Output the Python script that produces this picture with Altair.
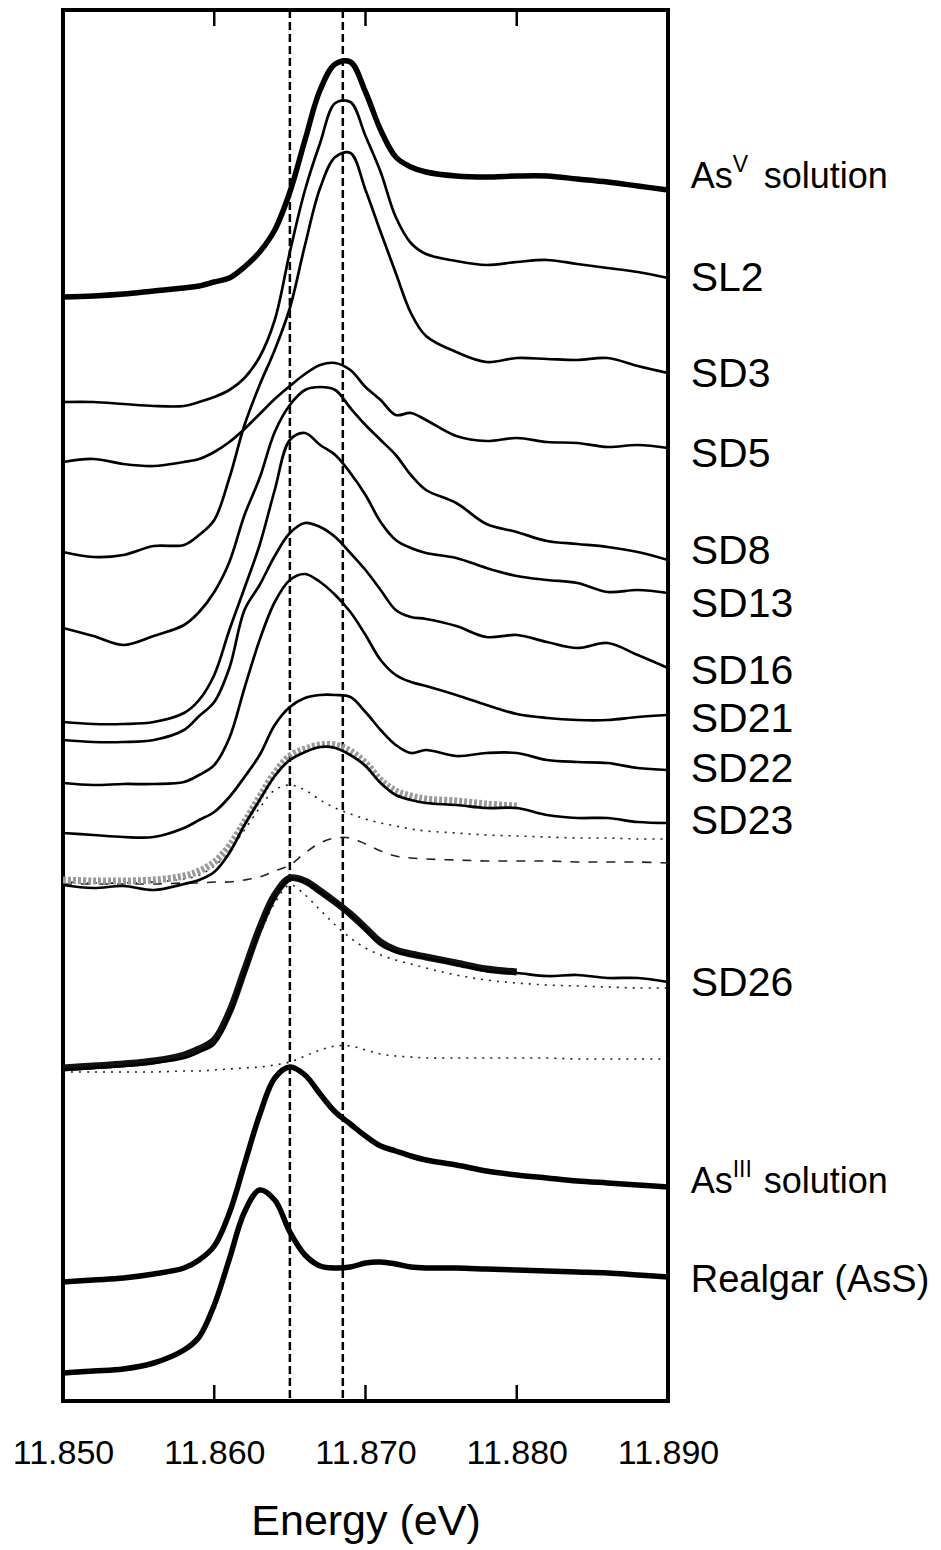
import altair as alt
import pandas as pd

# Energy grid (shared by all spectra)
energy = [11.850, 11.852, 11.854, 11.856, 11.858, 11.859, 11.860, 11.861, 11.862, 11.863,
          11.864, 11.865, 11.866, 11.867, 11.868, 11.869, 11.870, 11.871, 11.872, 11.873,
          11.874, 11.876, 11.878, 11.880, 11.882, 11.884, 11.886, 11.888, 11.890]

# Normalized absorbance with vertical offsets (a.u.)
asv = [11.04, 11.05, 11.07, 11.10, 11.13, 11.15, 11.19, 11.23, 11.34, 11.49, 11.71, 12.09, 12.61, 13.11, 13.37,
       13.39, 13.09, 12.71, 12.44, 12.34, 12.29, 12.25, 12.24, 12.25, 12.25, 12.22, 12.19, 12.15, 12.11]
sl2 = [9.99, 9.99, 9.97, 9.95, 9.95, 9.99, 10.04, 10.11, 10.23, 10.44, 10.81, 11.49, 12.11, 12.58, 12.98,
       12.99, 12.65, 12.29, 11.84, 11.58, 11.47, 11.40, 11.36, 11.39, 11.41, 11.37, 11.33, 11.29, 11.23]
sd3 = [8.49, 8.44, 8.46, 8.55, 8.56, 8.66, 8.81, 9.23, 9.76, 10.16, 10.51, 10.93, 11.56, 12.13, 12.44,
       12.48, 12.11, 11.69, 11.28, 10.88, 10.65, 10.49, 10.39, 10.43, 10.42, 10.41, 10.43, 10.35, 10.28]
sd5 = [9.39, 9.42, 9.37, 9.35, 9.39, 9.42, 9.49, 9.59, 9.72, 9.87, 10.02, 10.15, 10.27, 10.36, 10.38,
       10.31, 10.14, 10.01, 9.86, 9.88, 9.81, 9.65, 9.60, 9.63, 9.59, 9.58, 9.54, 9.56, 9.53]
sd8 = [7.73, 7.65, 7.56, 7.65, 7.76, 7.89, 8.09, 8.39, 8.86, 9.23, 9.69, 9.96, 10.11, 10.14, 10.11,
       9.93, 9.76, 9.61, 9.46, 9.26, 9.11, 8.98, 8.77, 8.69, 8.60, 8.57, 8.54, 8.49, 8.41]
sd13 = [6.79, 6.77, 6.77, 6.79, 6.88, 7.01, 7.26, 7.71, 8.13, 8.56, 9.11, 9.61, 9.68, 9.56, 9.46,
        9.28, 9.06, 8.79, 8.61, 8.53, 8.48, 8.43, 8.33, 8.25, 8.21, 8.18, 8.09, 8.11, 8.08]
sd16 = [6.61, 6.59, 6.59, 6.61, 6.71, 6.85, 6.99, 7.33, 7.91, 8.16, 8.45, 8.68, 8.78, 8.74, 8.64,
        8.48, 8.31, 8.11, 7.91, 7.84, 7.82, 7.75, 7.64, 7.66, 7.59, 7.53, 7.58, 7.46, 7.33]
sd21 = [6.18, 6.16, 6.17, 6.17, 6.19, 6.26, 6.36, 6.63, 7.13, 7.61, 7.99, 8.21, 8.27, 8.19, 8.06,
        7.89, 7.66, 7.41, 7.26, 7.19, 7.15, 7.06, 6.96, 6.87, 6.83, 6.81, 6.81, 6.84, 6.86]
sd22 = [5.68, 5.66, 5.64, 5.64, 5.73, 5.81, 5.89, 6.04, 6.24, 6.46, 6.76, 6.94, 7.03, 7.06, 7.06,
        7.04, 6.89, 6.71, 6.56, 6.48, 6.51, 6.45, 6.48, 6.48, 6.41, 6.39, 6.38, 6.33, 6.31]
sd23 = [5.16, 5.13, 5.15, 5.11, 5.17, 5.21, 5.29, 5.48, 5.76, 6.01, 6.25, 6.41, 6.49, 6.54, 6.53,
        6.46, 6.35, 6.18, 6.06, 6.01, 5.98, 5.96, 5.93, 5.93, 5.86, 5.83, 5.83, 5.79, 5.78]
sd23_fit = [5.21, 5.20, 5.20, 5.21, 5.25, 5.30, 5.39, 5.55, 5.79, 6.04, 6.28, 6.45, 6.52, 6.56, 6.56,
            6.50, 6.38, 6.21, 6.10, 6.05, 6.02, 6.00, 5.97, 5.95]
sd23_as3 = [5.19, 5.18, 5.18, 5.19, 5.22, 5.26, 5.35, 5.50, 5.71, 5.93, 6.11, 6.16, 6.11, 6.01, 5.93,
            5.87, 5.82, 5.78, 5.75, 5.72, 5.70, 5.68, 5.66, 5.65, 5.64, 5.63, 5.63, 5.62, 5.62]
sd23_as5 = [5.17, 5.17, 5.17, 5.17, 5.18, 5.18, 5.19, 5.19, 5.21, 5.24, 5.30, 5.36, 5.48, 5.58, 5.63,
            5.63, 5.57, 5.50, 5.45, 5.43, 5.42, 5.41, 5.40, 5.40, 5.40, 5.39, 5.39, 5.39, 5.38]
sd26 = [3.31, 3.33, 3.35, 3.38, 3.43, 3.49, 3.57, 3.86, 4.29, 4.71, 5.04, 5.22, 5.19, 5.09, 4.99,
        4.86, 4.71, 4.56, 4.49, 4.46, 4.43, 4.37, 4.30, 4.28, 4.25, 4.26, 4.23, 4.23, 4.19]
sd26_fit = [3.33, 3.35, 3.37, 3.40, 3.46, 3.52, 3.61, 3.89, 4.31, 4.73, 5.06, 5.23, 5.20, 5.10, 4.99,
            4.87, 4.73, 4.59, 4.51, 4.47, 4.44, 4.38, 4.32, 4.29]
sd26_as3 = [3.31, 3.33, 3.35, 3.38, 3.43, 3.49, 3.58, 3.85, 4.26, 4.66, 4.98, 5.16, 5.06, 4.91, 4.76,
            4.63, 4.53, 4.46, 4.41, 4.37, 4.33, 4.26, 4.21, 4.18, 4.16, 4.15, 4.14, 4.13, 4.13]
sd26_as5 = [3.29, 3.29, 3.29, 3.29, 3.30, 3.30, 3.31, 3.32, 3.33, 3.34, 3.36, 3.39, 3.45, 3.51, 3.55,
            3.55, 3.51, 3.47, 3.45, 3.44, 3.43, 3.43, 3.43, 3.43, 3.43, 3.42, 3.42, 3.42, 3.42]
as3 = [1.19, 1.21, 1.23, 1.27, 1.33, 1.41, 1.55, 1.88, 2.37, 2.86, 3.23, 3.34, 3.26, 3.07, 2.89,
       2.77, 2.65, 2.55, 2.50, 2.45, 2.41, 2.36, 2.30, 2.26, 2.23, 2.20, 2.18, 2.16, 2.14]
realgar = [0.28, 0.30, 0.32, 0.38, 0.51, 0.64, 0.96, 1.42, 1.89, 2.11, 2.01, 1.69, 1.46, 1.35, 1.33,
           1.34, 1.38, 1.39, 1.37, 1.34, 1.33, 1.33, 1.32, 1.31, 1.30, 1.29, 1.28, 1.26, 1.24]

# Reference energies (vertical dashed lines) and axis ticks
ref_lines = [11.865, 11.8685]
tick_values = [11.850, 11.860, 11.870, 11.880, 11.890]
inner_ticks = [11.860, 11.870, 11.880]
tick_centres = [0.08, 13.83]   # bottom and top edge (inward ticks)

# Right-hand labels
sample_labels = ["SL2", "SD3", "SD5", "SD8", "SD13", "SD16", "SD21", "SD22", "SD23", "SD26"]
sample_label_y = [11.22, 10.26, 9.46, 8.49, 7.96, 7.29, 6.81, 6.31, 5.79, 4.17]
std_base = ["As", "As"]
std_sup = ["V", "III"]
std_rest = ["solution", "solution"]
std_label_y = [12.24, 2.19]
realgar_label = ["Realgar (AsS)"]
realgar_label_y = [1.20]
label_energy = 11.8915

FONT = "Liberation Sans"
CURVE = "catmull-rom"


def long(name_vals):
    rows = []
    for name, vals in name_vals.items():
        for e, v in zip(energy, vals):
            rows.append({"energy": e, "value": v, "series": name})
    return pd.DataFrame(rows)


xscale = alt.Scale(domain=[11.85, 11.89], nice=False, zero=False)
yscale = alt.Scale(domain=[0, 13.91], nice=False, zero=False)

xenc = alt.X("energy:Q", scale=xscale,
             axis=alt.Axis(values=tick_values, format=".3f", title="Energy (eV)",
                           ticks=False, domain=False, grid=False, labelFlush=False,
                           labelOverlap=False, labelFont=FONT, labelFontSize=34,
                           labelColor="black", labelPadding=35, titleFont=FONT,
                           titleFontSize=43, titleFontWeight="normal", titleColor="black",
                           titlePadding=30))
yenc = alt.Y("value:Q", scale=yscale, axis=None)

thick_df = long({"AsV solution": asv, "AsIII solution": as3, "Realgar (AsS)": realgar})
thin_df = long({"SL2": sl2, "SD3": sd3, "SD5": sd5, "SD8": sd8, "SD13": sd13, "SD16": sd16,
                "SD21": sd21, "SD22": sd22, "SD23": sd23, "SD26": sd26})
fit23_df = long({"SD23 fit": sd23_fit})
fit26_df = long({"SD26 fit": sd26_fit})
dotted_df = long({"SD23 AsIII": sd23_as3, "SD26 AsIII": sd26_as3, "SD26 AsV": sd26_as5})
dashed_df = long({"SD23 AsV": sd23_as5})

ref_df = pd.DataFrame({"energy": ref_lines})
tick_df = pd.DataFrame([{"energy": e, "value": c} for e in inner_ticks for c in tick_centres])

layers = []
layers.append(alt.Chart(ref_df).mark_rule(color="black", strokeWidth=2.5, strokeDash=[8, 4])
              .encode(x=xenc))
layers.append(alt.Chart(dotted_df).mark_line(color="#222", strokeWidth=1.6, strokeDash=[2, 6],
                                             interpolate=CURVE)
              .encode(x=xenc, y=yenc, detail="series:N"))
layers.append(alt.Chart(dashed_df).mark_line(color="#222", strokeWidth=1.6, strokeDash=[9, 9],
                                             interpolate=CURVE)
              .encode(x=xenc, y=yenc, detail="series:N"))
layers.append(alt.Chart(fit23_df).mark_line(color="#9a9a9a", strokeWidth=7, strokeDash=[3, 2],
                                            interpolate=CURVE)
              .encode(x=xenc, y=yenc, detail="series:N"))
layers.append(alt.Chart(fit26_df).mark_line(color="#111", strokeWidth=7, interpolate=CURVE)
              .encode(x=xenc, y=yenc, detail="series:N"))
layers.append(alt.Chart(thin_df).mark_line(color="black", strokeWidth=2.7, interpolate=CURVE)
              .encode(x=xenc, y=yenc, detail="series:N"))
layers.append(alt.Chart(thick_df).mark_line(color="black", strokeWidth=5.5, interpolate=CURVE)
              .encode(x=xenc, y=yenc, detail="series:N"))
# inward ticks on bottom and top edges: vertical stroke symbols
layers.append(alt.Chart(tick_df).mark_point(shape="M0,-1L0,1", size=256, filled=False,
                                            stroke="black", strokeWidth=2.5, opacity=1)
              .encode(x=xenc, y=yenc))

# Labels
lab_df = pd.DataFrame({"energy": [label_energy] * len(sample_labels),
                       "value": sample_label_y, "text": sample_labels})
layers.append(alt.Chart(lab_df).mark_text(align="left", baseline="middle", font=FONT,
                                          fontSize=41, color="black")
              .encode(x=xenc, y=yenc, text="text:N"))
std_df = pd.DataFrame({"energy": [label_energy] * 2, "value": std_label_y,
                       "base": std_base, "sup": std_sup, "rest": std_rest})
layers.append(alt.Chart(std_df).mark_text(align="left", baseline="middle", font=FONT,
                                          fontSize=36, color="black")
              .encode(x=xenc, y=yenc, text="base:N"))
layers.append(alt.Chart(std_df).mark_text(align="left", baseline="middle", font=FONT,
                                          fontSize=23, color="black", dx=42, dy=-12)
              .encode(x=xenc, y=yenc, text="sup:N"))
layers.append(alt.Chart(std_df).mark_text(align="left", baseline="middle", font=FONT,
                                          fontSize=36, color="black", dx=73)
              .encode(x=xenc, y=yenc, text="rest:N"))
rg_df = pd.DataFrame({"energy": [label_energy], "value": realgar_label_y, "text": realgar_label})
layers.append(alt.Chart(rg_df).mark_text(align="left", baseline="middle", font=FONT,
                                         fontSize=38, color="black")
              .encode(x=xenc, y=yenc, text="text:N"))

chart = (alt.layer(*layers)
         .properties(width=605, height=1391,
                     padding={"left": 63, "top": 10, "right": 273, "bottom": 149},
                     autosize=alt.AutoSizeParams(type="none"),
                     background="white")
         .configure_view(stroke="black", strokeWidth=4))

chart.save("out.html", embed_options={"renderer": "svg", "actions": False})
